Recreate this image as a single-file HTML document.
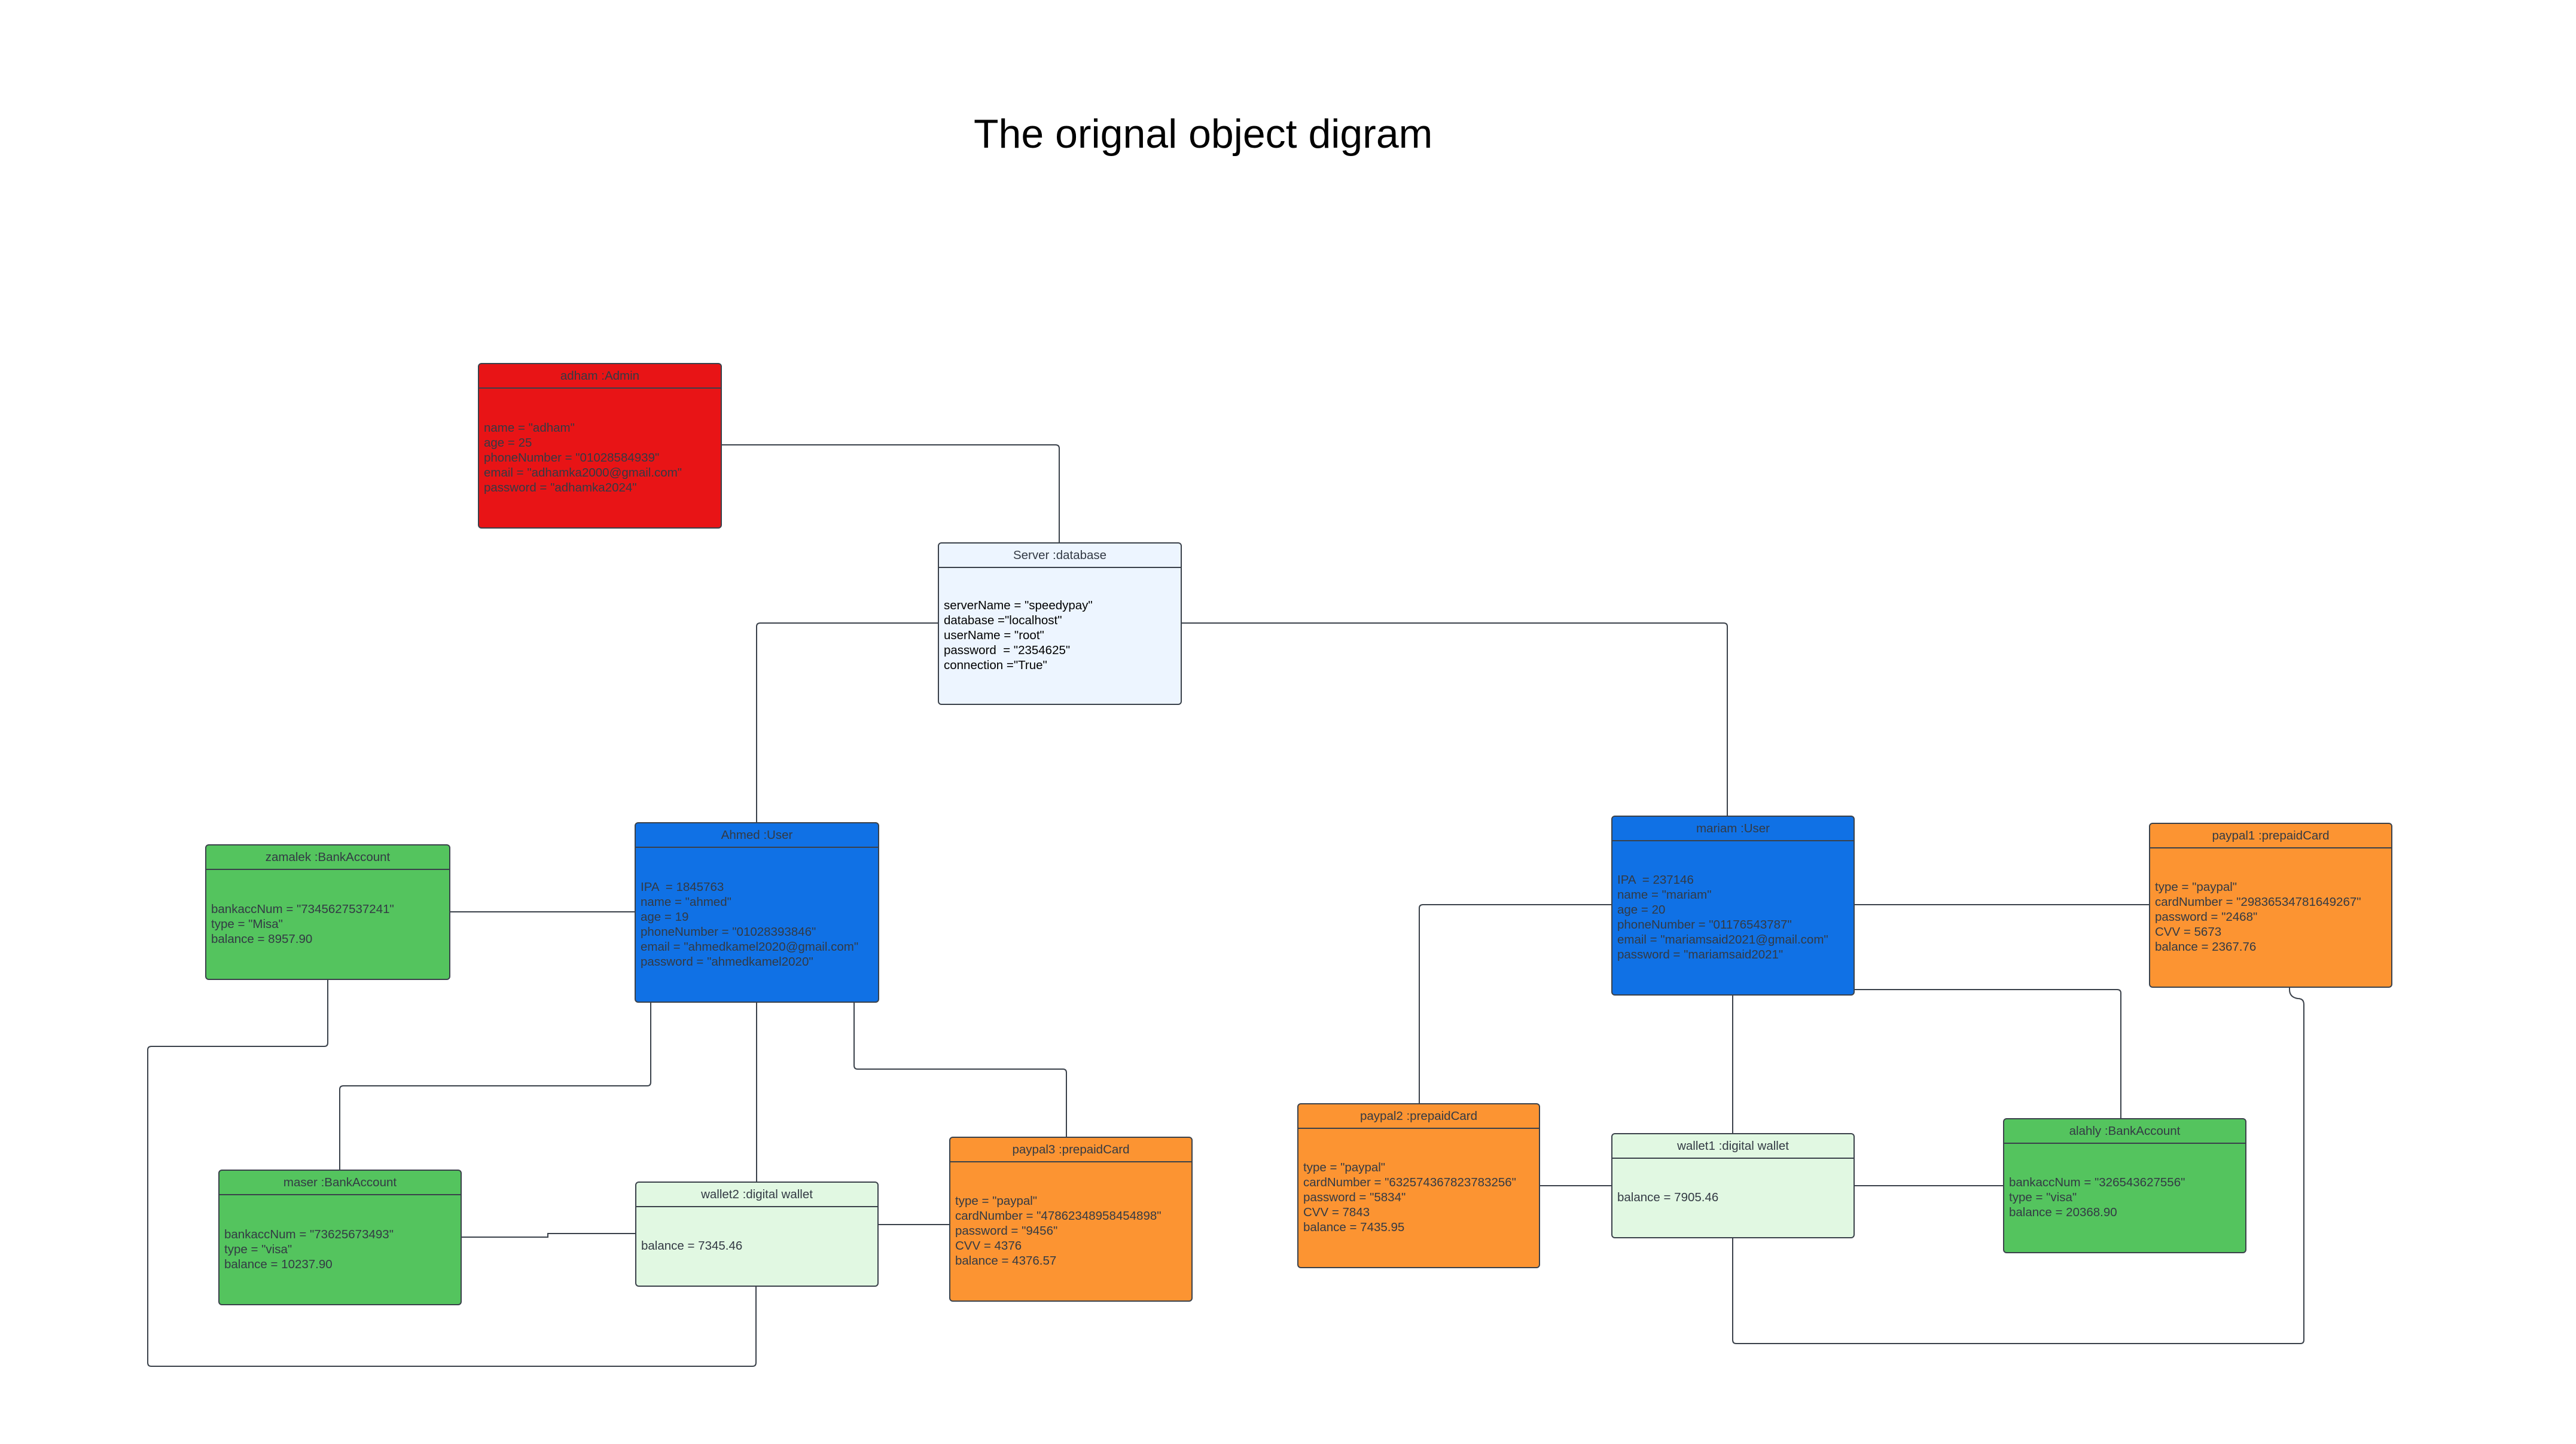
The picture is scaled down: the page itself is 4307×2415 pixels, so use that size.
<!DOCTYPE html>
<html><head><meta charset="utf-8">
<style>
html,body{margin:0;padding:0;background:#fff;}
body{width:4307px;height:2415px;position:relative;overflow:hidden;font-family:"Liberation Sans",sans-serif;}
.t{position:absolute;left:1628px;top:184px;white-space:nowrap;font-size:68px;color:#000;line-height:80px;}
.b{position:absolute;box-sizing:border-box;border:2.5px solid #3a414a;border-radius:6px;color:#333a44;font-size:20.5px;overflow:hidden;}
.h{box-sizing:border-box;border-bottom:2.5px solid #3a414a;text-align:center;display:flex;align-items:center;justify-content:center;height:41px;}
.a{position:absolute;left:8px;right:0;top:41px;bottom:2px;display:flex;flex-direction:column;justify-content:center;line-height:25px;white-space:pre;}
.red{background:#e81416}.blu{background:#1071e5}.grn{background:#54c45e}.org{background:#fc9432}.lg{background:#e1f8e2}.lb{background:#edf5ff}
svg{position:absolute;left:0;top:0}
</style></head><body>
<div class="t">The orignal object digram</div>
<svg width="4307" height="2415" fill="none" stroke="#3a414a" stroke-width="2">
<path d="M1206 744 H1765 Q1771 744 1771 750 V907"/>
<path d="M1568 1042 H1271 Q1265 1042 1265 1048 V1375"/>
<path d="M1975 1042 H2882 Q2888 1042 2888 1048 V1364"/>
<path d="M752 1525 H1061"/>
<path d="M1265 1676 V1976"/>
<path d="M1088 1676 V1810 Q1088 1816 1082 1816 H574 Q568 1816 568 1822 V1956"/>
<path d="M1428 1676 V1782 Q1428 1788 1434 1788 H1777 Q1783 1788 1783 1794 V1901"/>
<path d="M548 1638 V1744 Q548 1750 542 1750 H253 Q247 1750 247 1756 V2279 Q247 2285 253 2285 H1258 Q1264 2285 1264 2279 V2151"/>
<path d="M771 2069 H916 V2063 H1062"/>
<path d="M1468 2048 H1587"/>
<path d="M3100 1513 H3593"/>
<path d="M2694 1513 H2379 Q2373 1513 2373 1519 V1845"/>
<path d="M3100 1655 H3540 Q3546 1655 3546 1661 V1870"/>
<path d="M2897 1664 V1895"/>
<path d="M2574 1983 H2694"/>
<path d="M3100 1983 H3349"/>
<path d="M2897 2070 V2241 Q2897 2247 2903 2247 H3846 Q3852 2247 3852 2241 V1680 Q3852 1670 3842 1670 Q3828 1668 3828 1655 V1651"/>
</svg>

<div class="b red" style="left:799px;top:607px;width:408px;height:277px"><div class="h">adham :Admin</div><div class="a">name = "adham"
age = 25
phoneNumber = "01028584939"
email = "adhamka2000@gmail.com"
password = "adhamka2024"</div></div>

<div class="b lb" style="left:1568px;top:907px;width:408px;height:272px;color:#000"><div class="h" style="color:#333a44">Server :database</div><div class="a">serverName = "speedypay"
database ="localhost"
userName = "root"
password  = "2354625"
connection ="True"</div></div>

<div class="b grn" style="left:343px;top:1412px;width:410px;height:227px"><div class="h">zamalek :BankAccount</div><div class="a">bankaccNum = "7345627537241"
type = "Misa"
balance = 8957.90</div></div>

<div class="b blu" style="left:1061px;top:1375px;width:409px;height:302px"><div class="h">Ahmed :User</div><div class="a">IPA  = 1845763
name = "ahmed"
age = 19
phoneNumber = "01028393846"
email = "ahmedkamel2020@gmail.com"
password = "ahmedkamel2020"</div></div>

<div class="b blu" style="left:2694px;top:1364px;width:407px;height:301px"><div class="h">mariam :User</div><div class="a">IPA  = 237146
name = "mariam"
age = 20
phoneNumber = "01176543787"
email = "mariamsaid2021@gmail.com"
password = "mariamsaid2021"</div></div>

<div class="b org" style="left:3593px;top:1376px;width:407px;height:276px"><div class="h">paypal1 :prepaidCard</div><div class="a">type = "paypal"
cardNumber = "29836534781649267"
password = "2468"
CVV = 5673
balance = 2367.76</div></div>

<div class="b grn" style="left:365px;top:1956px;width:407px;height:227px"><div class="h">maser :BankAccount</div><div class="a">bankaccNum = "73625673493"
type = "visa"
balance = 10237.90</div></div>

<div class="b lg" style="left:1062px;top:1976px;width:407px;height:176px"><div class="h">wallet2 :digital wallet</div><div class="a">balance = 7345.46</div></div>

<div class="b org" style="left:1587px;top:1901px;width:407px;height:276px"><div class="h">paypal3 :prepaidCard</div><div class="a">type = "paypal"
cardNumber = "47862348958454898"
password = "9456"
CVV = 4376
balance = 4376.57</div></div>

<div class="b org" style="left:2169px;top:1845px;width:406px;height:276px"><div class="h">paypal2 :prepaidCard</div><div class="a">type = "paypal"
cardNumber = "632574367823783256"
password = "5834"
CVV = 7843
balance = 7435.95</div></div>

<div class="b lg" style="left:2694px;top:1895px;width:407px;height:176px"><div class="h">wallet1 :digital wallet</div><div class="a">balance = 7905.46</div></div>

<div class="b grn" style="left:3349px;top:1870px;width:407px;height:226px"><div class="h">alahly :BankAccount</div><div class="a">bankaccNum = "326543627556"
type = "visa"
balance = 20368.90</div></div>
</body></html>
